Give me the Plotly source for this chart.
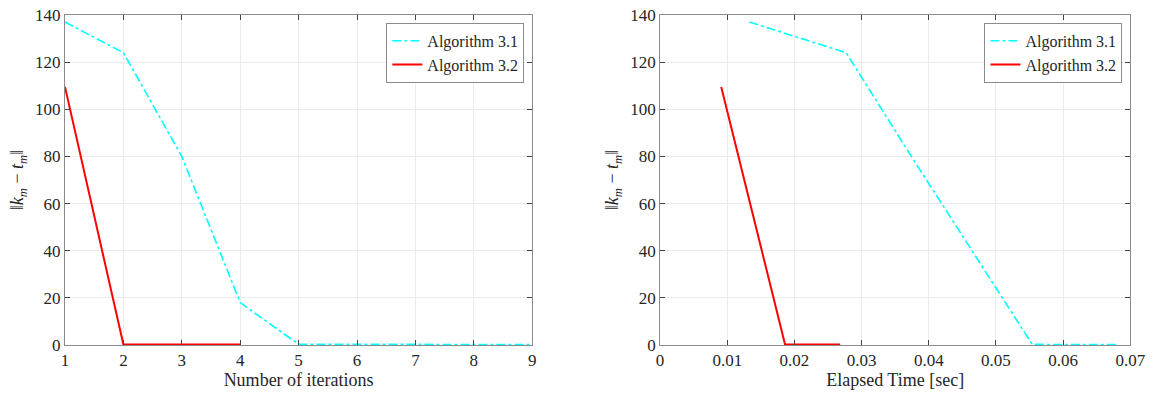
import plotly.graph_objects as go

# Left panel: error vs iterations
iter_a31 = [1, 2, 3, 4, 5, 6, 7, 8, 9]
err_a31 = [137, 124, 80, 18, 0.3, 0.2, 0.2, 0.2, 0.2]
iter_a32 = [1, 2, 3, 4]
err_a32 = [109.5, 0.2, 0.2, 0.2]

# Right panel: error vs elapsed time
time_a31 = [0.0133, 0.0277, 0.0374, 0.0514, 0.0554, 0.0585, 0.0617, 0.0648, 0.068]
time_a32 = [0.0091, 0.0186, 0.0225, 0.0268]

name31 = "Algorithm 3.1"
name32 = "Algorithm 3.2"
ytitle = "‖<i>k</i><sub><i>m</i></sub> − <i>t</i><sub><i>m</i></sub>‖"

FONT = "Liberation Serif"
cyan = "#00FFFF"
red = "#FF0000"
TXT = "#262626"
tf = dict(family=FONT, size=17, color=TXT)
ttf = dict(family=FONT, size=18, color=TXT)
lf = dict(family=FONT, size=16, color=TXT)

fig = go.Figure()
fig.add_trace(go.Scatter(x=iter_a31, y=err_a31, mode="lines", name=name31,
                         line=dict(color=cyan, width=1.6, dash="dashdot"),
                         xaxis="x", yaxis="y", legend="legend"))
fig.add_trace(go.Scatter(x=iter_a32, y=err_a32, mode="lines", name=name32,
                         line=dict(color=red, width=2),
                         xaxis="x", yaxis="y", legend="legend"))
fig.add_trace(go.Scatter(x=time_a31, y=err_a31, mode="lines", name=name31,
                         line=dict(color=cyan, width=1.6, dash="dashdot"),
                         xaxis="x2", yaxis="y2", legend="legend2"))
fig.add_trace(go.Scatter(x=time_a32, y=err_a32, mode="lines", name=name32,
                         line=dict(color=red, width=2),
                         xaxis="x2", yaxis="y2", legend="legend2"))

W, H = 1164, 395
style = dict(showline=True, linecolor="#8c8c8c", mirror="ticks", ticks="inside",
             ticklen=5, showgrid=True, gridcolor="#ebebeb", zeroline=False,
             tickfont=tf)
fig.update_layout(
    width=W, height=H,
    margin=dict(l=0, r=0, t=15, b=50),
    paper_bgcolor="white", plot_bgcolor="white",
    font=dict(family=FONT, size=17),
    xaxis=dict(domain=[62 / W, 537 / W], anchor="y", range=[1, 9], tick0=1, dtick=1,
               title=dict(text="Number of iterations", font=ttf, standoff=2), **style),
    yaxis=dict(domain=[0, 1], anchor="x", range=[0, 140], tick0=0, dtick=20,
               title=dict(text=ytitle, font=ttf, standoff=6), **style),
    xaxis2=dict(domain=[667 / W, 1145 / W], anchor="y2", range=[0, 0.07],
                tick0=0, dtick=0.01,
                title=dict(text="Elapsed Time [sec]", font=ttf, standoff=2), **style),
    yaxis2=dict(domain=[0, 1], anchor="x2", range=[0, 140], tick0=0, dtick=20,
                title=dict(text=ytitle, font=ttf, standoff=6), **style),
    legend=dict(x=529 / W, y=0.976, xanchor="right", yanchor="top",
                bgcolor="white", bordercolor="#8c8c8c", borderwidth=1, font=lf),
    legend2=dict(x=1137 / W, y=0.976, xanchor="right", yanchor="top",
                 bgcolor="white", bordercolor="#8c8c8c", borderwidth=1, font=lf),
)

fig.write_html("out.html")
